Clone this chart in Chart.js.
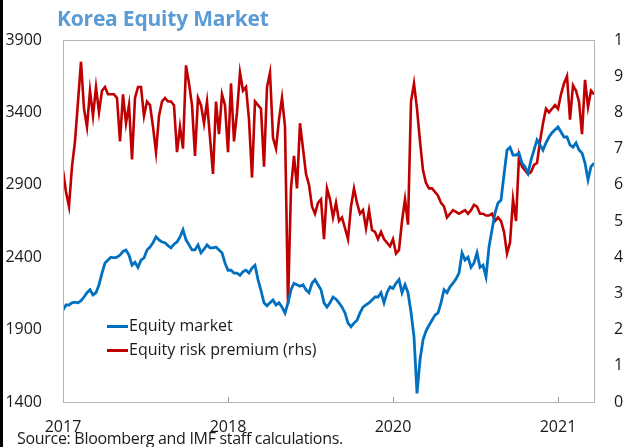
<!DOCTYPE html>
<html>
<head>
<meta charset="utf-8">
<script src="https://cdn.jsdelivr.net/npm/chart.js@4/dist/chart.umd.min.js"></script>
<style>
  html, body { margin: 0; padding: 0; background: #fff; }
  body { width: 623px; height: 447px; position: relative; overflow: hidden; font-family: "Open Sans", "Noto Sans", sans-serif; }
  #edge { position: absolute; left: 0; top: 0; width: 3px; height: 447px; background: #000; }
  #title { position: absolute; left: 57px; top: 4px; font-size: 21px; font-weight: bold; color: #5B9BD5; white-space: nowrap; letter-spacing: -0.2px; }
  #source { position: absolute; left: 17px; top: 427px; font-size: 16px; color: #1a1a1a; white-space: nowrap; letter-spacing: -0.3px; }
  .legend { position: absolute; left: 107px; font-size: 16px; color: #1a1a1a; white-space: nowrap; }
  .legend .swatch { display: inline-block; width: 21px; height: 3px; vertical-align: middle; margin-right: 1px; }
  canvas { position: absolute; left: 0; top: 0; }
</style>
</head>
<body>
<canvas id="chart" width="623" height="447"></canvas>
<div id="edge"></div>
<div id="title">Korea Equity Market</div>
<div class="legend" style="top: 314px;"><span class="swatch" style="background:#0070C0"></span>Equity market</div>
<div class="legend" style="top: 338px;"><span class="swatch" style="background:#C00000"></span>Equity risk premium (rhs)</div>
<div id="source">Source: Bloomberg and IMF staff calculations.</div>
<script>
// tick labels along the bottom and where they sit (point index)
const xTickLabels = ['2017', '2018', '2020', '2021'];
const xTickIndex = [0, 55, 110, 165];
const yTicks = [1400, 1900, 2400, 2900, 3400, 3900];

// Equity market index (lhs)
const equityMarket = [
  2035, 2070, 2070, 2085, 2090, 2085, 2100, 2125, 2155, 2175,
  2140, 2155, 2210, 2290, 2360, 2380, 2400, 2395, 2400, 2415,
  2440, 2450, 2415, 2345, 2365, 2330, 2380, 2395, 2450, 2470,
  2500, 2540, 2520, 2505, 2500, 2480, 2465, 2490, 2505, 2540,
  2590, 2520, 2485, 2450, 2450, 2485, 2430, 2455, 2485, 2465,
  2465, 2470, 2450, 2430, 2360, 2310, 2310, 2290, 2290, 2275,
  2300, 2310, 2290, 2325, 2345, 2245, 2170, 2085, 2065, 2085,
  2105, 2070, 2085, 2055, 2015, 2085, 2175, 2220, 2210, 2200,
  2210, 2175, 2155, 2220, 2245, 2210, 2175, 2085, 2055, 2085,
  2125, 2110, 2085, 2055, 2015, 1945, 1920, 1945, 1965, 2015,
  2055, 2070, 2085, 2105, 2125, 2125, 2155, 2085, 2155, 2195,
  2185, 2220, 2245, 2155, 2210, 2155, 2020, 1850, 1460, 1690,
  1830, 1890, 1930, 1965, 2000, 2015, 2085, 2175, 2155, 2195,
  2220, 2250, 2290, 2430, 2380, 2400, 2330, 2360, 2430, 2330,
  2345, 2265, 2470, 2590, 2705, 2775, 2795, 2970, 3140, 3160,
  3105, 3105, 3120, 3050, 3025, 2980, 3070, 3140, 3210, 3175,
  3140, 3190, 3230, 3260, 3280, 3300, 3265, 3230, 3230, 3175,
  3160, 3190, 3140, 3120, 3050, 2935, 3025, 3050
];

// Equity risk premium (rhs)
const riskPremium = [
  6.4, 5.8, 5.4, 6.5, 7.2, 8.3, 9.4, 8.1, 7.6, 8.6,
  7.9, 8.7, 8.0, 8.6, 8.7, 8.5, 8.5, 8.5, 8.4, 7.2,
  8.5, 7.7, 8.2, 6.7, 8.4, 8.7, 8.7, 7.9, 8.3, 8.2,
  7.6, 6.9, 7.9, 8.3, 8.4, 8.3, 8.3, 8.2, 6.9, 7.6,
  7.0, 9.3, 8.8, 8.2, 6.8, 8.4, 8.2, 7.7, 8.3, 7.3,
  6.3, 8.3, 7.4, 8.5, 8.2, 6.9, 8.8, 7.2, 8.0, 9.1,
  8.6, 8.7, 7.8, 6.2, 8.3, 8.2, 8.1, 6.5, 8.7, 9.1,
  7.3, 7.0, 7.8, 8.4, 7.6, 2.7, 5.9, 6.8, 5.9, 7.7,
  7.0, 6.3, 6.0, 5.4, 5.2, 5.5, 5.6, 4.5, 5.9, 5.6,
  5.1, 5.5, 5.0, 5.1, 4.8, 4.5, 5.4, 5.9, 5.5, 5.2,
  5.3, 4.8, 5.3, 4.75, 4.7, 4.5, 4.7, 4.5, 4.4, 4.3,
  4.5, 4.1, 4.2, 5.0, 5.6, 4.9, 8.3, 8.8, 8.1, 7.2,
  6.4, 6.05, 5.9, 5.9, 5.8, 5.7, 5.5, 5.4, 5.1, 5.2,
  5.3, 5.25, 5.2, 5.25, 5.3, 5.2, 5.3, 5.45, 5.4, 5.2,
  5.2, 5.15, 5.15, 5.2, 5.0, 5.1, 5.0, 4.7, 4.1, 4.4,
  5.6, 5.0, 6.8, 6.5, 6.4, 6.3, 6.35, 6.55, 6.6, 7.2,
  7.7, 8.1, 8.0, 8.1, 8.2, 8.1, 8.5, 8.8, 9.0, 7.8,
  8.75, 8.6, 8.3, 7.4, 8.9, 8.15, 8.6, 8.5
];

const tickFont = { family: '"Open Sans", "Noto Sans", sans-serif', size: 16 };
const tickColor = '#1a1a1a';

// grey box round the plot area
const frame = {
  id: 'frame',
  afterDraw(chart) {
    const a = chart.chartArea;
    const ctx = chart.ctx;
    ctx.save();
    ctx.strokeStyle = '#b4b4b4';
    ctx.lineWidth = 1;
    ctx.strokeRect(a.left + 0.5, a.top + 0.5, a.right - a.left - 1, a.bottom - a.top);
    ctx.restore();
  }
};

new Chart(document.getElementById('chart').getContext('2d'), {
  type: 'line',
  data: {
    datasets: [
      {
        label: 'Equity market',
        data: equityMarket.map((v, i) => ({ x: i, y: v })),
        borderColor: '#0070C0',
        borderWidth: 2.8,
        pointRadius: 0,
        yAxisID: 'y'
      },
      {
        label: 'Equity risk premium (rhs)',
        data: riskPremium.map((v, i) => ({ x: i, y: v })),
        borderColor: '#C00000',
        borderWidth: 2.6,
        pointRadius: 0,
        yAxisID: 'y1'
      }
    ]
  },
  options: {
    responsive: false,
    animation: false,
    layout: { padding: { top: 40, bottom: 0, left: 0, right: 0 } },
    plugins: { legend: { display: false }, tooltip: { enabled: false } },
    scales: {
      x: {
        type: 'linear',
        min: 0,
        max: 177.33,
        afterBuildTicks: (s) => { s.ticks = xTickIndex.map(v => ({ value: v })); },
        afterFit: (s) => { s.height = 45; },
        ticks: {
          autoSkip: false,
          maxRotation: 0,
          padding: 21,
          color: tickColor,
          font: tickFont,
          callback: (v) => xTickLabels[xTickIndex.indexOf(v)]
        },
        grid: { drawOnChartArea: false, drawTicks: true, tickLength: -5, color: '#9a9a9a' },
        border: { display: false }
      },
      y: {
        position: 'left',
        min: 1400,
        max: 3900,
        afterBuildTicks: (s) => { s.ticks = yTicks.map(v => ({ value: v })); },
        afterFit: (s) => { s.width = 63; },
        ticks: { padding: 13, color: tickColor, font: tickFont, callback: (v) => String(v) },
        grid: { display: false },
        border: { display: false }
      },
      y1: {
        position: 'right',
        min: 0,
        max: 10,
        ticks: { stepSize: 1, padding: 11, color: tickColor, font: tickFont },
        afterFit: (s) => { s.width = 28; },
        grid: { display: false },
        border: { display: false }
      }
    }
  },
  plugins: [frame]
});
</script>
</body>
</html>
